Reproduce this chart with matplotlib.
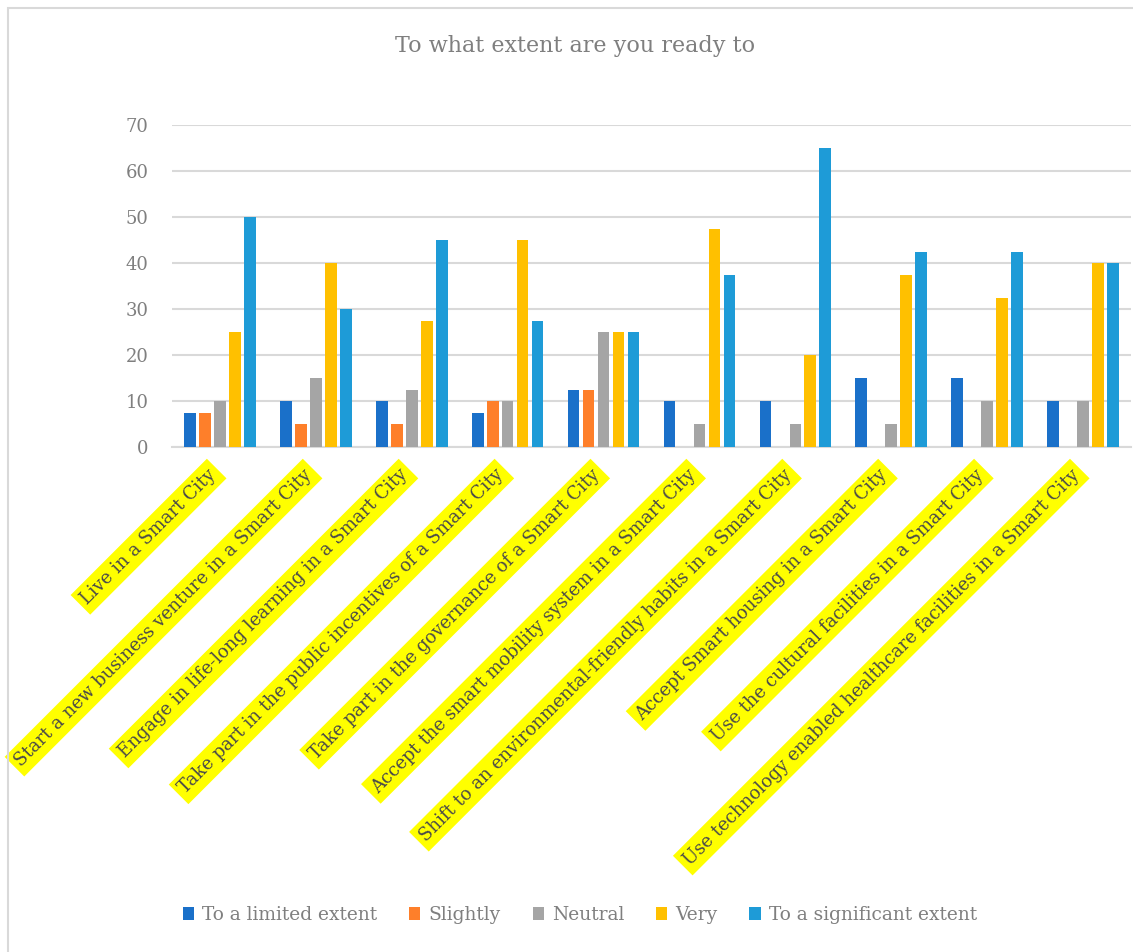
import matplotlib
matplotlib.use("Agg")
import matplotlib.pyplot as plt
import numpy as np
from matplotlib.patches import Rectangle, Patch

categories = [
    "Live in a Smart City",
    "Start a new business venture in a Smart City",
    "Engage in life-long learning in a Smart City",
    "Take part in the public incentives of a Smart City",
    "Take part in the governance of a Smart City",
    "Accept the smart mobility system in a Smart City",
    "Shift to an environmental-friendly habits in a Smart City",
    "Accept Smart housing in a Smart City",
    "Use the cultural facilities in a Smart City",
    "Use technology enabled healthcare facilities in a Smart City",
]
series_names = ["To a limited extent", "Slightly", "Neutral", "Very", "To a significant extent"]
limited = [7.5, 10, 10, 7.5, 12.5, 10, 10, 15, 15, 10]
slightly = [7.5, 5, 5, 10, 12.5, 0, 0, 0, 0, 0]
neutral = [10, 15, 12.5, 10, 25, 5, 5, 5, 10, 10]
very = [25, 40, 27.5, 45, 25, 47.5, 20, 37.5, 32.5, 40]
significant = [50, 30, 45, 27.5, 25, 37.5, 65, 42.5, 42.5, 40]
yticks = [0, 10, 20, 30, 40, 50, 60, 70]

colors = ["#1A70C9", "#FE7F2A", "#A5A5A5", "#FFC000", "#1E9BD7"]
font = "DejaVu Serif"
plt.rcParams["font.family"] = [font]

fig = plt.figure(figsize=(11.33, 9.52), dpi=100)
ax = fig.add_axes([172/1133, 1-447/952, (1131-172)/1133, (447-125)/952])

x = np.arange(len(categories))
step = 0.156
width = 0.122
data = [limited, slightly, neutral, very, significant]
for k, (vals, c, name) in enumerate(zip(data, colors, series_names)):
    ax.bar(x + (k - 2) * step, vals, width=width, color=c, label=name, zorder=3)

ax.set_xlim(-0.5, len(categories) - 0.5)
ax.set_ylim(0, 70)
ax.set_yticks(yticks)
ax.set_yticklabels([str(v) for v in yticks], fontsize=13, color="#7F7F7F")
ax.tick_params(axis="y", length=0, pad=17)
ax.tick_params(axis="x", length=0, labelbottom=False)
ax.grid(axis="y", color="#D9D9D9", linewidth=1.5, zorder=0)
for s in ["top", "right", "left"]:
    ax.spines[s].set_visible(False)
ax.spines["bottom"].set_color("#D9D9D9")
ax.spines["bottom"].set_linewidth(1.5)

for i, lab in enumerate(categories):
    ax.annotate(lab, xy=(i - 0.07, 0), xycoords=("data", "axes fraction"),
                xytext=(0, -18), textcoords="offset points",
                rotation=45, rotation_mode="anchor", ha="right", va="center",
                fontsize=13.0, color="#4A4A4A",
                bbox=dict(boxstyle="square,pad=0.27", fc="#FFFF00", ec="none"))

fig.text(575/1133, 1-46/952, "To what extent are you ready to", ha="center", va="center",
         fontsize=16, color="#7F7F7F")

handles = [Patch(facecolor=c, edgecolor="none") for c in colors]
leg = fig.legend(handles, series_names, loc="center", bbox_to_anchor=(580/1133, 1-915/952),
                 ncol=5, frameon=False, fontsize=13.4, handlelength=0.6, handleheight=0.7,
                 handletextpad=0.45, columnspacing=1.7)
for t in leg.get_texts():
    t.set_color("#7F7F7F")

fig.patches.append(Rectangle((8/1133, -0.5), 2.0, 1-8/952 + 0.5, transform=fig.transFigure,
                             fill=False, ec="#D9D9D9", lw=1.5, zorder=0))

fig.savefig("out.png", dpi=100, facecolor="white")
